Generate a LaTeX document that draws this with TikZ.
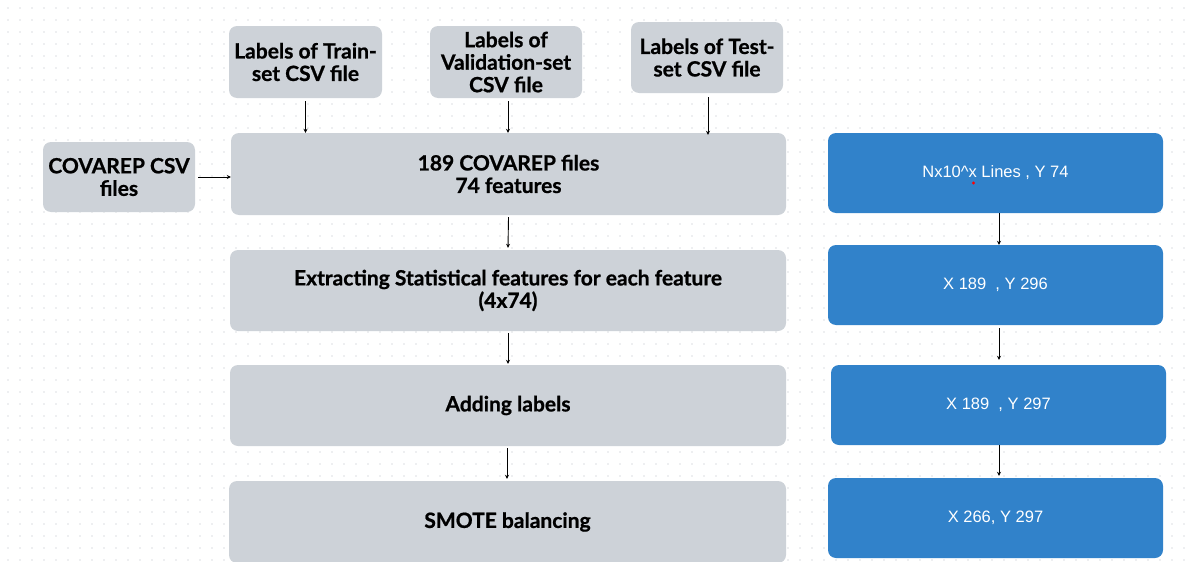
\documentclass[tikz,border=0pt]{standalone}
\usepackage{fontspec}
\setmainfont{Lato}[BoldFeatures={FakeBold=0.8}]
\newfontfamily\valuefont{Liberation Sans}
\usetikzlibrary{arrows.meta}
\definecolor{stepgrey}{RGB}{205,210,216}
\definecolor{shapeblue}{RGB}{49,130,202}
\definecolor{griddot}{RGB}{222,224,228}
\tikzset{
  gbox/.style={fill=stepgrey, draw=none, rounded corners=8pt, align=center,
    font=\fontsize{21}{22.5}\selectfont\bfseries, text=black, inner sep=2pt},
  bbox/.style={fill=shapeblue, draw=none, rounded corners=8pt, align=center,
    font=\valuefont\fontsize{16.5}{19}\selectfont, text=white,
    minimum width=335pt, minimum height=80pt},
  flow/.style={-{Stealth[length=4pt,width=4pt]}, line width=0.9pt, black}
}
\begin{document}
\begin{tikzpicture}[x=1pt,y=-1pt]
  % canvas and dotted background grid
  \useasboundingbox (0,0) rectangle (1192,562);
  \fill[white] (0,0) rectangle (1192,562);
  \foreach \gx in {8,20,...,1190}{
    \foreach \gy in {8,20,...,560}{
      \fill[griddot] (\gx,\gy) circle (0.8pt);
    }
  }

  % label inputs
  \node[gbox, minimum width=153pt, minimum height=72pt] (train) at (305.5,62) {Labels of Train-\\set CSV file};
  \node[gbox, minimum width=152pt, minimum height=72pt] (valid) at (506,62) {Labels of\\Validation-set\\CSV file};
  \node[gbox, minimum width=152pt, minimum height=71pt] (test) at (707,57.5) {Labels of Test-\\set CSV file};
  \node[gbox, minimum width=152pt, minimum height=70pt] (covarep) at (119,177) {COVAREP CSV\\files};

  % processing pipeline
  \node[gbox, minimum width=555pt, minimum height=82pt] (files) at (508.5,174) {189 COVAREP files\\74 features};
  \node[gbox, minimum width=556pt, minimum height=81pt] (stats) at (508,290.5) {Extracting Statistical features for each feature\\(4x74)};
  \node[gbox, minimum width=556pt, minimum height=81pt] (labels) at (508,405.5) {Adding labels};
  \node[gbox, minimum width=557pt, minimum height=82pt] (smote) at (507.5,522) {SMOTE balancing};

  % data shapes
  \node[bbox] (s1) at (995.5,173) {Nx10\textasciicircum x Lines , Y 74};
  \node[bbox] (s2) at (995.5,285) {X 189\ \ , Y 296};
  \node[bbox] (s3) at (998.5,405) {X 189\ \ , Y 297};
  \node[bbox] (s4) at (995.5,518) {X 266, Y 297};
  \fill[red] (973.5,183) circle (1.6pt);

  % connectors
  \draw[flow] (train.south) ++(0,3) coordinate (t0) -- (t0 |- files.north);
  \draw[flow] ([xshift=2pt]valid.south) ++(0,3) coordinate (v0) -- (v0 |- files.north);
  \draw[flow] (test.south) ++(1,4) coordinate (e0) -- ([yshift=-2pt]e0 |- files.north);
  \draw[flow] ([xshift=3pt]covarep.east) -- (covarep.east -| files.west);
  \draw[flow] ([yshift=-2pt]files.south) -- ([yshift=2pt]stats.north);
  \draw[flow] ([yshift=-2pt]stats.south) -- ([yshift=1pt]labels.north);
  \draw[flow] ([xshift=-1pt,yshift=-2pt]labels.south) coordinate (l0) -- ([yshift=2pt]l0 |- smote.north);
  \draw[flow] ([xshift=3.5pt]s1.south) -- ([xshift=3.5pt]s2.north);
  \draw[flow] ([xshift=3.5pt,yshift=-3pt]s2.south) -- ([xshift=0.5pt,yshift=5pt]s3.north);
  \draw[flow] ([xshift=0.5pt]s3.south) -- ([xshift=3.5pt,yshift=2pt]s4.north);
\end{tikzpicture}
\end{document}
